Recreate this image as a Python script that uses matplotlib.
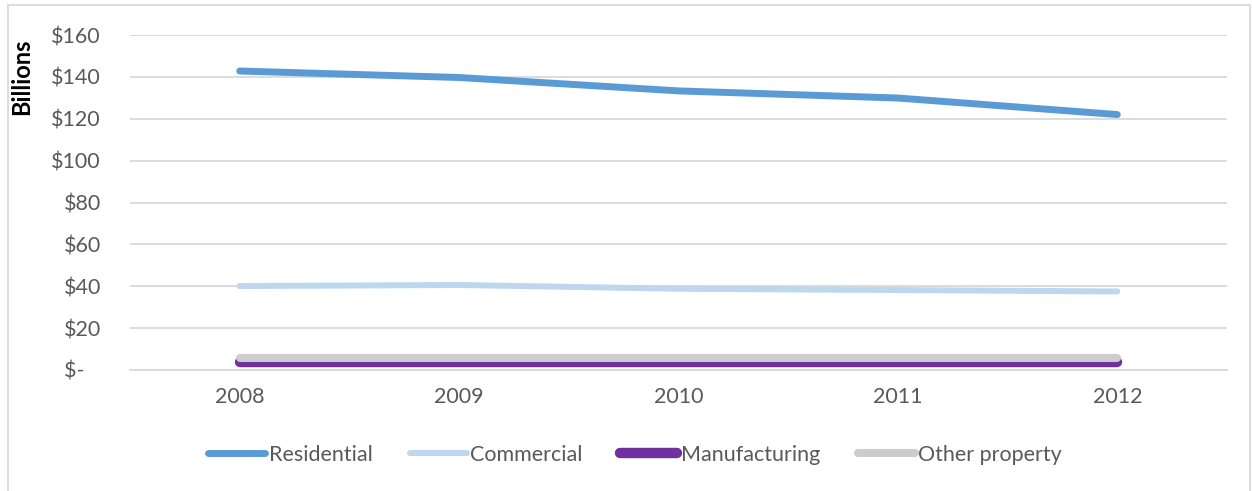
import matplotlib.pyplot as plt
from matplotlib.patches import Rectangle
from matplotlib.ticker import FuncFormatter

years = ['2008', '2009', '2010', '2011', '2012']
residential = [142.8, 139.7, 133.3, 129.9, 122.0]
commercial = [40.1, 40.6, 38.8, 38.2, 37.5]
manufacturing = [4.0, 4.0, 4.0, 4.0, 4.0]
other_property = [5.7, 5.7, 5.7, 5.7, 5.7]

plt.rcParams['font.family'] = ['Lato', 'DejaVu Sans']
grid_col = '#d9d9d9'
text_col = '#595959'
fs = 15.5

fig = plt.figure(figsize=(12.52, 4.91), dpi=100)
ax = fig.add_axes([130 / 1252, 121 / 491, 1097 / 1252, 335 / 491])

# outer chart frame
fig.patches.append(Rectangle((8 / 1252, -0.1), 1242 / 1252, 1.1 - 5 / 491,
                             transform=fig.transFigure, fill=False,
                             edgecolor=grid_col, linewidth=1.3))

x = range(len(years))
ax.plot(x, residential, color='#5b9bd5', lw=5, solid_capstyle='round', label='Residential')
ax.plot(x, commercial, color='#bdd7ee', lw=4.3, solid_capstyle='round', label='Commercial')
ax.plot(x, manufacturing, color='#7030a0', lw=7.5, solid_capstyle='round', label='Manufacturing')
ax.plot(x, other_property, color='#cccccc', lw=5.8, solid_capstyle='round', label='Other property')

ax.set_xlim(-0.5, len(years) - 0.5)
ax.set_ylim(0, 160)
ax.set_yticks(range(0, 161, 20))
ax.yaxis.set_major_formatter(FuncFormatter(lambda v, p: '$-   ' if v == 0 else '${:.0f}'.format(v)))
ax.set_xticks(list(x))
ax.set_xticklabels(years)
ax.tick_params(length=0, labelsize=fs, colors=text_col)
ax.tick_params(axis='y', pad=21)
ax.tick_params(axis='x', pad=12)
ax.grid(axis='y', color=grid_col, lw=1.3)
ax.set_axisbelow(True)
for s in ['top', 'right', 'left']:
    ax.spines[s].set_visible(False)
ax.spines['bottom'].set_color(grid_col)
ax.spines['bottom'].set_linewidth(1.3)

fig.text(22 / 1252, 1 - 77 / 491, 'Billions', rotation=90, fontsize=17,
         fontweight='bold', ha='center', va='center', color='black')

fig.legend(loc='center', bbox_to_anchor=(635 / 1252, 1 - 455 / 491), ncol=4,
           frameon=False, fontsize=fs, handlelength=2.65, handletextpad=0.15,
           columnspacing=1.75, labelcolor=text_col)

plt.savefig('out.png', dpi=100)
